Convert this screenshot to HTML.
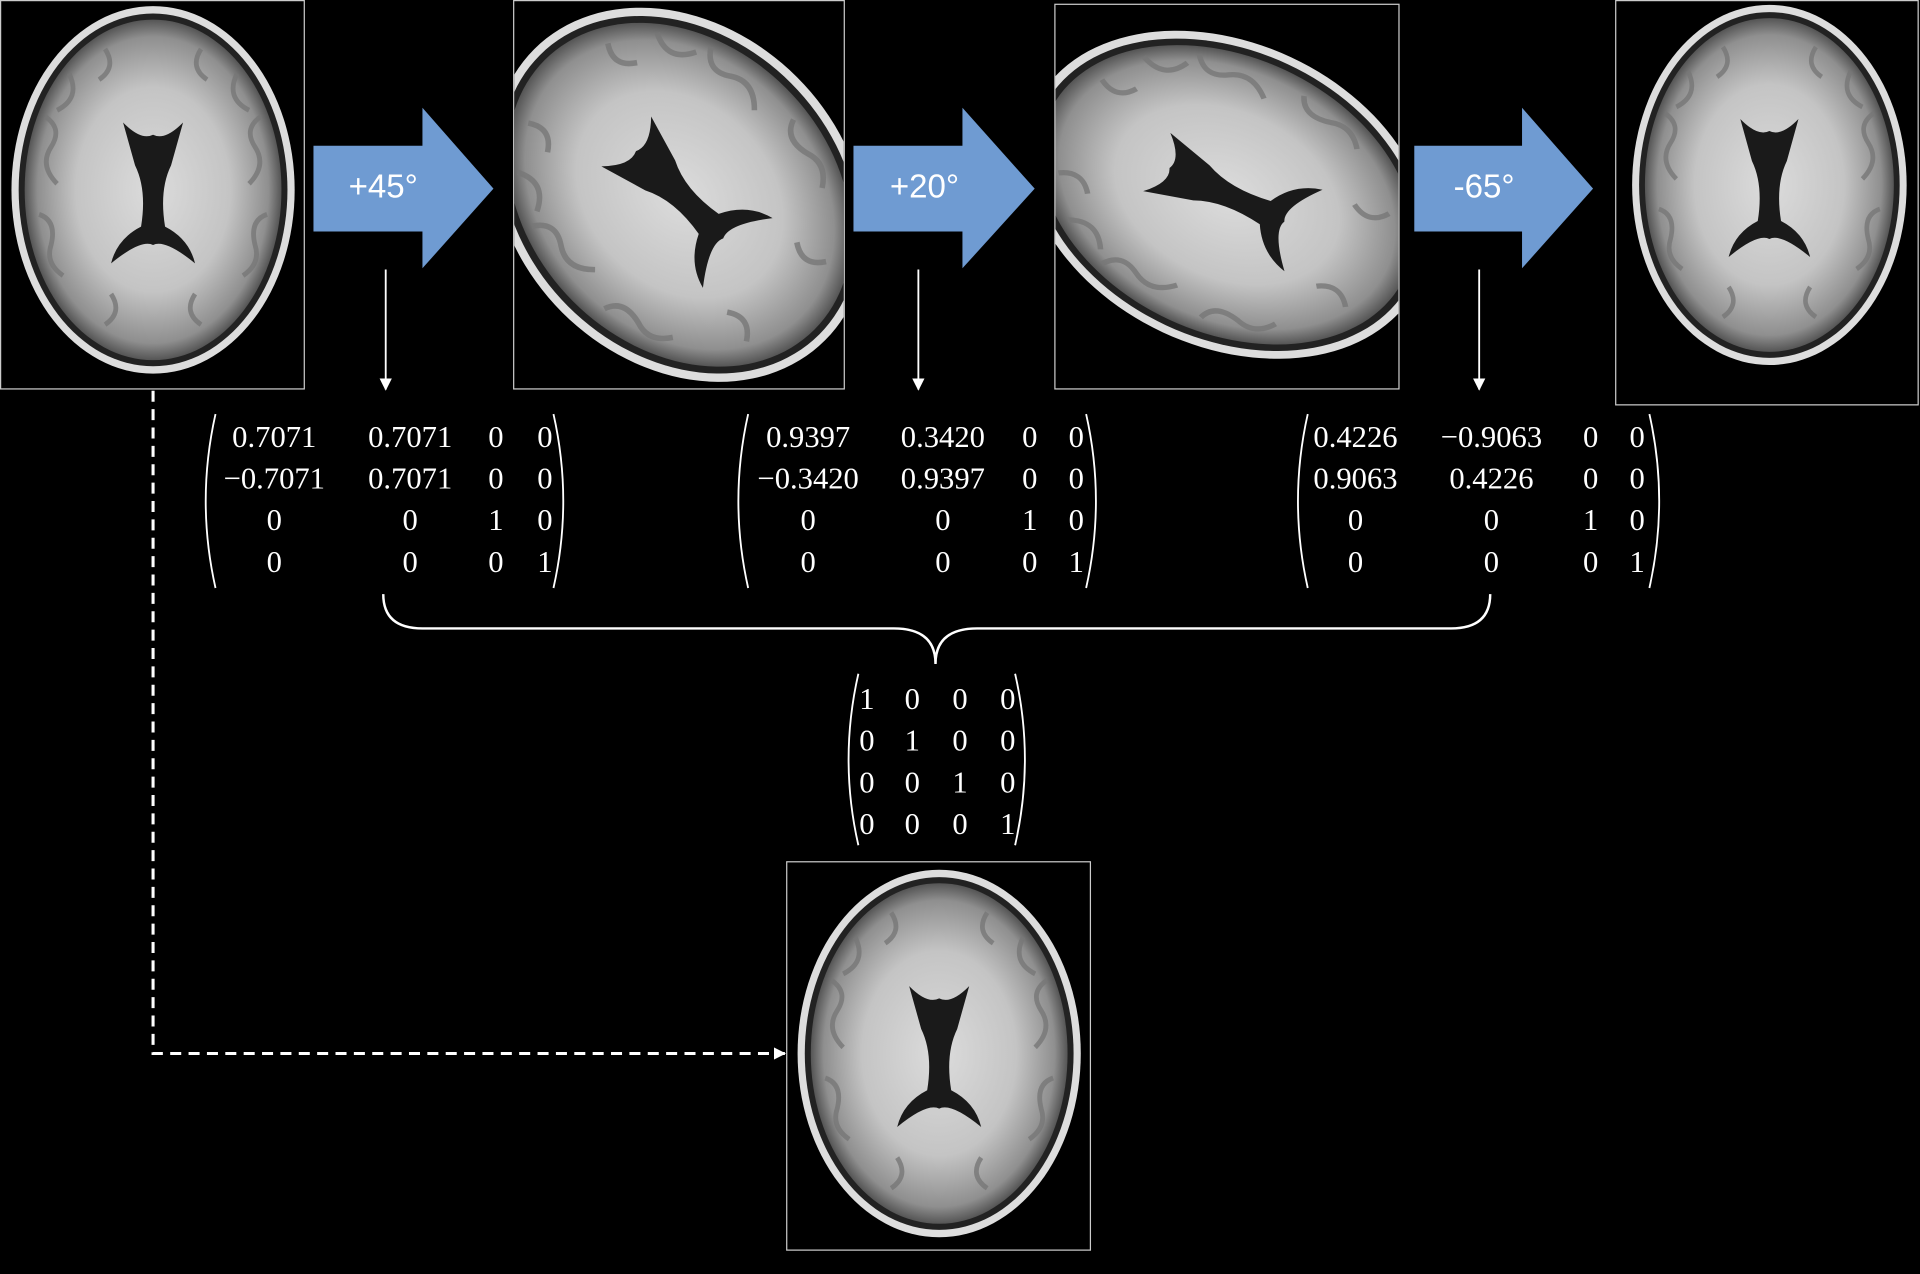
<!DOCTYPE html>
<html><head><meta charset="utf-8"><style>
html,body{margin:0;padding:0;background:#000;}
svg{display:block}
text{font-family:"Liberation Serif",serif;fill:#fff;font-size:25px;text-anchor:middle;dominant-baseline:middle}
.lbl{font-family:"Liberation Sans",sans-serif;font-size:27px}
</style></head><body>
<svg width="1920" height="1274" viewBox="0 0 1568 1040" preserveAspectRatio="none" xmlns="http://www.w3.org/2000/svg">
<defs>
<radialGradient id="bg" cx="50%" cy="50%" r="50%">
<stop offset="0" stop-color="#dcdcdc"/><stop offset="0.6" stop-color="#c4c4c4"/><stop offset="0.9" stop-color="#8f8f8f"/><stop offset="1" stop-color="#555"/>
</radialGradient>
<g id="brain">
<ellipse cx="0" cy="0" rx="118" ry="150" fill="#ddd"/>
<ellipse cx="0" cy="0" rx="112" ry="144" fill="#222"/>
<ellipse cx="0" cy="0" rx="107" ry="139" fill="url(#bg)"/>
<path d="M-25,-55 Q-10,-40 0,-45 Q10,-40 25,-55 L15,-20 Q5,0 10,30 Q30,40 35,60 Q10,40 0,45 Q-10,40 -35,60 Q-30,40 -10,30 Q-5,0 -15,-20 Z" fill="#1a1a1a"/>
<g stroke="#777" stroke-width="4" fill="none" opacity="0.8">
<path d="M-90,-60 q15,10 5,25 q-10,15 5,30 M-95,20 q15,5 10,25 q-5,15 10,25 M90,-60 q-15,10 -5,25 q10,15 -5,30 M95,20 q-15,5 -10,25 q5,15 -10,25 M-40,-115 q10,15 -5,25 M40,-115 q-10,15 5,25 M-40,110 q15,-10 5,-25 M40,110 q-15,-10 -5,-25 M-70,-95 q10,20 -10,30 M70,-95 q-10,20 10,30"/>
</g>
</g>
<marker id="ah" markerWidth="10" markerHeight="10" refX="9" refY="5" orient="auto" markerUnits="userSpaceOnUse"><path d="M0,0 L10,5 L0,10 Z" fill="#fff"/></marker>
</defs>

<rect x="0.5" y="0.5" width="248" height="317" fill="#000" stroke="#ccc"/>
<use href="#brain" transform="translate(125,155) scale(0.98,1)"/>
<rect x="419.5" y="0.5" width="270" height="317" fill="#000" stroke="#ccc"/>
<svg x="420" y="1" width="269" height="316"><use href="#brain" transform="translate(135,158) rotate(-45) scale(1.15,1.12)"/></svg>
<rect x="861.5" y="3.5" width="281" height="314" fill="#000" stroke="#ccc"/>
<svg x="862" y="4" width="280" height="313"><use href="#brain" transform="translate(140,155) rotate(-65) scale(1.05,1.15)"/></svg>
<rect x="1319.5" y="0.5" width="247" height="330" fill="#000" stroke="#ccc"/>
<svg x="1320" y="1" width="246" height="329"><use href="#brain" transform="translate(125,150) scale(0.95,0.98)"/></svg>
<rect x="642.5" y="703.5" width="248" height="317" fill="#000" stroke="#ccc"/>
<use href="#brain" transform="translate(767,860) scale(0.98,1)"/>

<g fill="#6f9bd2">
<path d="M256,119 H345 V88 L403,154 L345,219 V189 H256 Z"/>
<path d="M697,119 H786 V88 L845,154 L786,219 V189 H697 Z"/>
<path d="M1155,119 H1243 V88 L1301,154 L1243,219 V189 H1155 Z"/>
</g>
<text class="lbl" x="313" y="154">+45°</text>
<text class="lbl" x="755" y="154">+20°</text>
<text class="lbl" x="1212" y="154">-65°</text>

<g stroke="#fff" stroke-width="1.5">
<line x1="315" y1="220" x2="315" y2="318" marker-end="url(#ah)"/>
<line x1="750" y1="220" x2="750" y2="318" marker-end="url(#ah)"/>
<line x1="1208" y1="220" x2="1208" y2="318" marker-end="url(#ah)"/>
</g>

<g stroke="#fff" stroke-width="1.5" fill="none">
<path d="M176,338 Q160,409 176,480"/><path d="M452,338 Q468,409 452,480"/>
<path d="M611,338 Q595,409 611,480"/><path d="M887,338 Q903,409 887,480"/>
<path d="M1068,338 Q1052,409 1068,480"/><path d="M1347,338 Q1363,409 1347,480"/>
<path d="M701,550 Q685,620 701,690"/><path d="M829,550 Q845,620 829,690"/>
<path d="M313,485 Q313,513 345,513 H730 Q764,513 764,542 Q764,513 798,513 H1185 Q1217,513 1217,485" stroke-width="2"/>
</g>

<g transform="translate(0,2)">
<text x="224" y="357">0.7071</text><text x="335" y="357">0.7071</text><text x="405" y="357">0</text><text x="445" y="357">0</text>
<text x="224" y="391">−0.7071</text><text x="335" y="391">0.7071</text><text x="405" y="391">0</text><text x="445" y="391">0</text>
<text x="224" y="425">0</text><text x="335" y="425">0</text><text x="405" y="425">1</text><text x="445" y="425">0</text>
<text x="224" y="459">0</text><text x="335" y="459">0</text><text x="405" y="459">0</text><text x="445" y="459">1</text>
<text x="660" y="357">0.9397</text><text x="770" y="357">0.3420</text><text x="841" y="357">0</text><text x="879" y="357">0</text>
<text x="660" y="391">−0.3420</text><text x="770" y="391">0.9397</text><text x="841" y="391">0</text><text x="879" y="391">0</text>
<text x="660" y="425">0</text><text x="770" y="425">0</text><text x="841" y="425">1</text><text x="879" y="425">0</text>
<text x="660" y="459">0</text><text x="770" y="459">0</text><text x="841" y="459">0</text><text x="879" y="459">1</text>
<text x="1107" y="357">0.4226</text><text x="1218" y="357">−0.9063</text><text x="1299" y="357">0</text><text x="1337" y="357">0</text>
<text x="1107" y="391">0.9063</text><text x="1218" y="391">0.4226</text><text x="1299" y="391">0</text><text x="1337" y="391">0</text>
<text x="1107" y="425">0</text><text x="1218" y="425">0</text><text x="1299" y="425">1</text><text x="1337" y="425">0</text>
<text x="1107" y="459">0</text><text x="1218" y="459">0</text><text x="1299" y="459">0</text><text x="1337" y="459">1</text>
<text x="708" y="571">1</text><text x="745" y="571">0</text><text x="784" y="571">0</text><text x="823" y="571">0</text>
<text x="708" y="605">0</text><text x="745" y="605">1</text><text x="784" y="605">0</text><text x="823" y="605">0</text>
<text x="708" y="639">0</text><text x="745" y="639">0</text><text x="784" y="639">1</text><text x="823" y="639">0</text>
<text x="708" y="673">0</text><text x="745" y="673">0</text><text x="784" y="673">0</text><text x="823" y="673">1</text>
</g>

<path d="M125,319 V860 H641" stroke="#fff" stroke-width="2.5" stroke-dasharray="9,6" fill="none" marker-end="url(#ah)"/>
</svg>
</body></html>
